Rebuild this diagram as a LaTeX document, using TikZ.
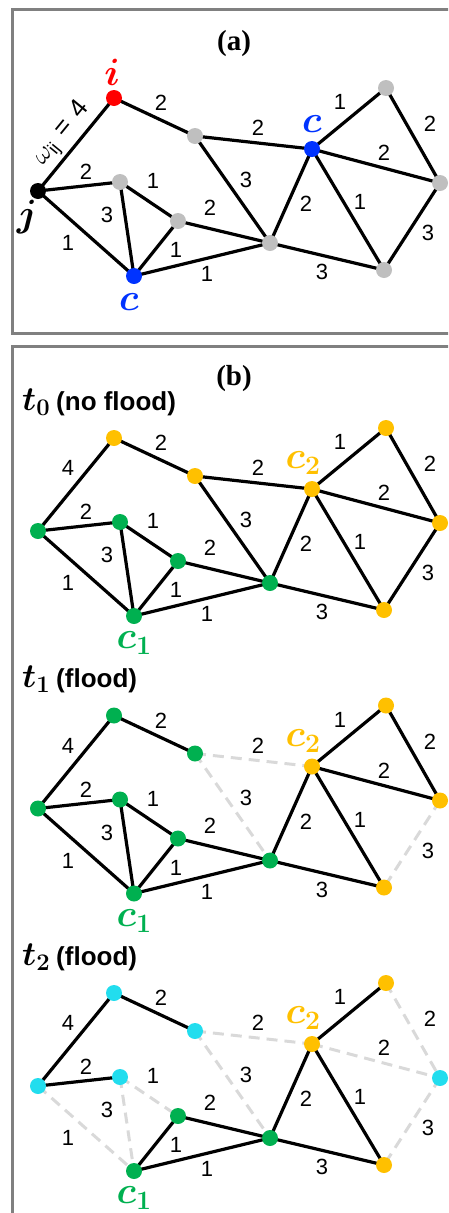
\documentclass[tikz,border=0pt]{standalone}
\usepackage{fix-cm}
\usepackage{amsmath}
\usepackage{fontspec}
\setmainfont{Liberation Serif}
\setsansfont{Liberation Sans}
\usetikzlibrary{positioning, backgrounds}

\definecolor{nodegray}{HTML}{BFBFBF}
\definecolor{floodgray}{HTML}{D9D9D9}
\definecolor{framegray}{HTML}{808080}
\definecolor{cgreen}{HTML}{00B050}
\definecolor{cyellow}{HTML}{FFC000}
\definecolor{ccyan}{HTML}{22DDEE}
\definecolor{cblue}{HTML}{0033FF}

\tikzset{
  vtx/.style={circle, inner sep=0pt, minimum size=16pt},
  edge/.style={line width=3.2pt, black},
  flood/.style={line width=3pt, floodgray, dash pattern=on 11pt off 7pt},
  wlabel/.style={font=\fontsize{22}{24}\selectfont\sffamily, text=black, inner sep=0pt},
  vname/.style={font=\fontsize{38}{38}\selectfont, inner sep=0pt},
  title/.style={font=\fontsize{29}{30}\selectfont\bfseries},
  tstamp/.style={font=\fontsize{26}{28}\selectfont\sffamily\bfseries, anchor=west, inner sep=0pt},
  panel/.style={draw=framegray, line width=3pt}
}
\newcommand{\tsym}[1]{{\fontsize{34}{34}\selectfont$\boldsymbol{t_{#1}}$}\hspace{6pt}}

% vertices: name/x/y
\newcommand{\vertexlist}{j/38/191, i/114/98, m/195/136, c2/312/149, tr/386/88, r/440/183,
  br/384/270, hub/270/243, k/120/182, l/178/221, c1/134/276}
% edges: from/to/label shift x/label shift y/weight
\newcommand{\edgelist}{j/k/7/-14.5/2, j/c1/-18/9.5/1, i/m/6.5/-14/2, m/c2/4.5/-14.5/2,
  m/hub/13.5/-9.5/3, k/l/4/-20.5/1, k/c1/-20/-14/3, l/c1/20/1.5/1, l/hub/-14/-24/2,
  c1/hub/5/14.5/1, hub/c2/15/8/2, hub/br/-5/15.5/3, c2/tr/-9/-16.5/1, c2/r/8/-13/2,
  c2/br/12/-7.5/1, tr/r/17/-11.5/2, r/br/16/6.5/3}

% #1 prefix, #2 default fill, #3 label of edge j--i
\newcommand{\drawgraph}[3]{%
  \foreach \n/\x/\y in \vertexlist
    \node[vtx, fill=#2, v\n/.try] (#1-\n) at (\x,\y) {};
  \begin{scope}[on background layer]
    \draw[edge] (#1-j.center) -- #3 (#1-i.center);
    \foreach \u/\v/\dx/\dy/\w in \edgelist
      \draw[edge, \u\v/.try] (#1-\u.center) -- node[wlabel, shift={(\dx,\dy)}] {\w} (#1-\v.center);
  \end{scope}
}

\begin{document}
\begin{tikzpicture}[x=1pt, y=-1pt]
  \useasboundingbox (0,0) rectangle (448,1213);
  \clip (0,0) rectangle (448,1213);

  % frames and titles
  \draw[panel] (12,9.5) rectangle (470,333.5);
  \draw[panel] (12,346.5) rectangle (470,1240);
  \node[title] (titlea) at (234,44) {(a)};
  \node[title] (titleb) at (234,379) {(b)};

  % (a)
  \begin{scope}[vj/.style={fill=black}, vi/.style={fill=red},
      vc1/.style={fill=cblue}, vc2/.style={fill=cblue}]
    \drawgraph{a}{nodegray}{node[sloped, above=3pt, inner sep=0pt, font=\fontsize{26}{26}\selectfont\sffamily]
      {$\omega_{\textsf{ij}}$\hspace{10pt}=\hspace{10pt}4}}
  \end{scope}
  \node[vname, text=red, above=4pt of a-i, xshift=-2pt] (namei) {$\boldsymbol{i}$};
  \node[vname] (namej) at ([shift={(-11,26)}]a-j) {$\boldsymbol{j}$};
  \node[vname, text=cblue, above=8pt of a-c2] (namect) {$\boldsymbol{c}$};
  \node[vname, text=cblue, below=9pt of a-c1, xshift=-5pt] (namecb) {$\boldsymbol{c}$};

  % (b) t0
  \begin{scope}[shift={(0,340)}, vj/.style={fill=cgreen}, vk/.style={fill=cgreen},
      vl/.style={fill=cgreen}, vc1/.style={fill=cgreen}, vhub/.style={fill=cgreen}]
    \node[tstamp] (stamp0) at (22,62) {\tsym{0}(no flood)};
    \drawgraph{t0}{cyellow}{node[wlabel, shift={(-8,-16.5)}] {4}}
  \end{scope}
  \node[vname, text=cgreen, below=7.5pt of t0-c1] (name01) {$\boldsymbol{c_1}$};
  \node[vname, text=cyellow, above=6pt of t0-c2, xshift=-9pt] (name02) {$\boldsymbol{c_2}$};

  % (b) t1
  \begin{scope}[shift={(0,617.5)}, vc2/.style={fill=cyellow}, vtr/.style={fill=cyellow},
      vr/.style={fill=cyellow}, vbr/.style={fill=cyellow},
      mc2/.style=flood, mhub/.style=flood, rbr/.style=flood]
    \node[tstamp] (stamp1) at (22,62) {\tsym{1}(flood)};
    \drawgraph{t1}{cgreen}{node[wlabel, shift={(-8,-16.5)}] {4}}
  \end{scope}
  \node[vname, text=cgreen, below=7.5pt of t1-c1] (name11) {$\boldsymbol{c_1}$};
  \node[vname, text=cyellow, above=6pt of t1-c2, xshift=-9pt] (name12) {$\boldsymbol{c_2}$};

  % (b) t2
  \begin{scope}[shift={(0,895)}, vl/.style={fill=cgreen}, vc1/.style={fill=cgreen},
      vhub/.style={fill=cgreen}, vc2/.style={fill=cyellow}, vtr/.style={fill=cyellow},
      vbr/.style={fill=cyellow},
      mc2/.style=flood, mhub/.style=flood, jc1/.style=flood, kc1/.style=flood,
      kl/.style=flood, trr/.style=flood, c2r/.style=flood, rbr/.style=flood]
    \node[tstamp] (stamp2) at (22,62) {\tsym{2}(flood)};
    \drawgraph{t2}{ccyan}{node[wlabel, shift={(-8,-16.5)}] {4}}
  \end{scope}
  \node[vname, text=cgreen, below=7.5pt of t2-c1] (name21) {$\boldsymbol{c_1}$};
  \node[vname, text=cyellow, above=6pt of t2-c2, xshift=-9pt] (name22) {$\boldsymbol{c_2}$};
\end{tikzpicture}
\end{document}
